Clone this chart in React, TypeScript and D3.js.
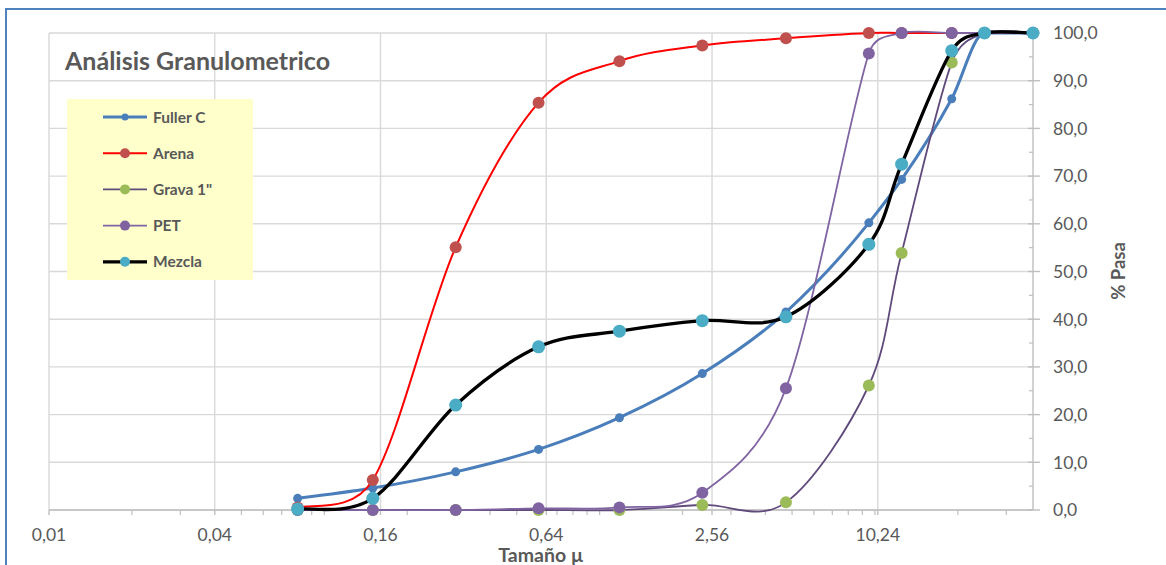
import React from "react";
import * as d3 from "d3";

const sizes = [0.08, 0.15, 0.3, 0.6, 1.18, 2.36, 4.75, 9.5, 12.5, 19, 25, 37.5];
const fullerC = [2.45, 4.6, 8.0, 12.7, 19.35, 28.6, 41.5, 60.2, 69.3, 86.2, 100, 100];
const arena = [0.5, 6.3, 55.1, 85.4, 94.1, 97.4, 98.9, 100, 100, 100, 100, 100];
const grava = [0, 0, 0, 0, 0, 1.05, 1.6, 26.1, 53.9, 93.8, 100, 100];
const pet = [0, 0, 0, 0.35, 0.55, 3.6, 25.5, 95.7, 100, 100, 100, 100];
const mezcla = [0.2, 2.45, 22.0, 34.2, 37.5, 39.7, 40.5, 55.7, 72.5, 96.3, 100, 100];

const xMajorTicks = [0.01, 0.04, 0.16, 0.64, 2.56, 10.24];
const xMajorLabels = ["0,01", "0,04", "0,16", "0,64", "2,56", "10,24"];
const yTicks = [0, 10, 20, 30, 40, 50, 60, 70, 80, 90, 100];

const seriesNames = ["Fuller C", "Arena", 'Grava 1"', "PET", "Mezcla"];
const seriesValues = [fullerC, arena, grava, pet, mezcla];
const lineColors = ["#4A7EBB", "#FF0000", "#5F4A7B", "#8064A2", "#000000"];
const markerColors = ["#4A7EBB", "#C0504D", "#9BBB59", "#8064A2", "#4BACC6"];
const lineWidths = [3, 2, 1.8, 1.8, 3.3];
const markerR = [4.5, 6, 6, 6, 6.5];
const curveKind = ["monotone", "excel", "excel", "excel", "excel"];

const FONT = "Lato, 'Open Sans', sans-serif";

type P = [number, number];

// Excel-like smoothed line: Catmull-Rom tangents (1/6) clamped to half segment length
function smoothPath(pts: P[]): string {
  if (pts.length === 0) return "";
  let d = `M${pts[0][0]},${pts[0][1]}`;
  const clamp = (v: P, maxLen: number): P => {
    const len = Math.hypot(v[0], v[1]);
    if (len > maxLen && len > 0) return [(v[0] * maxLen) / len, (v[1] * maxLen) / len];
    return v;
  };
  for (let i = 0; i < pts.length - 1; i++) {
    const p0 = pts[i - 1] ?? pts[i];
    const p1 = pts[i];
    const p2 = pts[i + 1];
    const p3 = pts[i + 2] ?? pts[i + 1];
    const half = Math.hypot(p2[0] - p1[0], p2[1] - p1[1]) / 2;
    const t1 = clamp([(p2[0] - p0[0]) / 6, (p2[1] - p0[1]) / 6], half);
    const t2 = clamp([(p3[0] - p1[0]) / 6, (p3[1] - p1[1]) / 6], half);
    d += `C${p1[0] + t1[0]},${p1[1] + t1[1]} ${p2[0] - t2[0]},${p2[1] - t2[1]} ${p2[0]},${p2[1]}`;
  }
  return d;
}

export default function App() {
  const x = d3.scaleLog().domain([0.01, 37.5]).range([49, 1033]);
  const y = d3.scaleLinear().domain([0, 100]).range([510, 33]);
  const monotone = d3
    .line<P>()
    .x((d) => d[0])
    .y((d) => d[1])
    .curve(d3.curveMonotoneX);

  const minorX = x.ticks().filter((t) => !xMajorTicks.some((m) => Math.abs(m - t) < 1e-9));
  const minorY = d3.range(5, 100, 10);

  return (
    <svg
      width={1166}
      height={565}
      style={{ position: "absolute", left: 0, top: 0, background: "#fff" }}
      fontFamily={FONT}
    >
      <rect x={0} y={0} width={1166} height={565} fill="#fff" />
      <rect x={6} y={9} width={1200} height={600} fill="none" stroke="#4F81BD" strokeWidth={2} />

      {/* gridlines */}
      {yTicks.map((t) => (
        <line key={"hg" + t} x1={49} x2={1033} y1={y(t)} y2={y(t)} stroke="#D9D9D9" strokeWidth={1.4} />
      ))}
      {xMajorTicks.map((t) => (
        <line key={"vg" + t} x1={x(t)} x2={x(t)} y1={33} y2={510} stroke="#D9D9D9" strokeWidth={1.4} />
      ))}

      {/* axes */}
      <line x1={49} x2={1033} y1={510} y2={510} stroke="#BFBFBF" strokeWidth={1.4} />
      {minorX.map((t) => (
        <line key={"mx" + t} x1={x(t)} x2={x(t)} y1={510} y2={515} stroke="#BFBFBF" strokeWidth={1.2} />
      ))}
      {xMajorTicks.map((t) => (
        <line key={"Mx" + t} x1={x(t)} x2={x(t)} y1={510} y2={515} stroke="#BFBFBF" strokeWidth={1.4} />
      ))}
      <line x1={1033} x2={1033} y1={33} y2={510} stroke="#BFBFBF" strokeWidth={1.4} />
      {yTicks.map((t) => (
        <line key={"My" + t} x1={1028} x2={1040} y1={y(t)} y2={y(t)} stroke="#BFBFBF" strokeWidth={1.4} />
      ))}
      {minorY.map((t) => (
        <line key={"my" + t} x1={1029} x2={1033} y1={y(t)} y2={y(t)} stroke="#BFBFBF" strokeWidth={1.2} />
      ))}

      {/* tick labels */}
      {yTicks.map((t) => (
        <text key={"yl" + t} x={1053} y={y(t)} dy="0.36em" fontSize={17.5} fill="#595959">
          {t.toFixed(1).replace(".", ",")}
        </text>
      ))}
      {xMajorTicks.map((t, i) => (
        <text key={"xl" + t} x={x(t)} y={541} textAnchor="middle" fontSize={17.5} fill="#595959">
          {xMajorLabels[i]}
        </text>
      ))}

      {/* axis titles */}
      <text x={541} y={562} textAnchor="middle" fontSize={19.5} fontWeight="bold" fill="#595959">
        Tamaño µ
      </text>
      <text
        transform="translate(1125,271) rotate(-90)"
        textAnchor="middle"
        fontSize={18.5}
        fontWeight="bold"
        fill="#595959"
      >
        % Pasa
      </text>

      {/* title */}
      <text x={65} y={70} fontSize={25} fontWeight="bold" fill="#595959">
        Análisis Granulometrico
      </text>

      {/* series */}
      {seriesValues.map((vals, si) => {
        const pts: P[] = sizes.map((s, i) => [x(s), y(vals[i])]);
        const d = curveKind[si] === "excel" ? smoothPath(pts) : monotone(pts) || "";
        return (
          <g key={"s" + si}>
            <path d={d} fill="none" stroke={lineColors[si]} strokeWidth={lineWidths[si]} />
            {pts.map((p, i) => (
              <circle key={i} cx={p[0]} cy={p[1]} r={markerR[si]} fill={markerColors[si]} />
            ))}
          </g>
        );
      })}

      {/* legend */}
      <rect x={67} y={99} width={186} height={181} fill="#FFFFCC" />
      {seriesNames.map((n, i) => {
        const ly = 117 + i * 36.2;
        return (
          <g key={"lg" + i}>
            <line x1={103} x2={147} y1={ly} y2={ly} stroke={lineColors[i]} strokeWidth={lineWidths[i]} />
            <circle cx={125} cy={ly} r={i === 0 ? 3.5 : 5} fill={markerColors[i]} />
            <text x={153} y={ly} dy="0.36em" fontSize={15.5} fontWeight="bold" fill="#595959">
              {n}
            </text>
          </g>
        );
      })}
    </svg>
  );
}
